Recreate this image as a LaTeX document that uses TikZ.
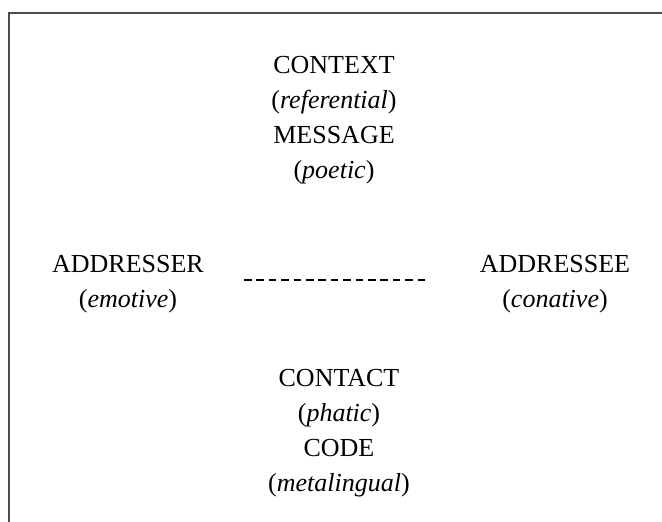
\documentclass[tikz,border=0pt]{standalone}
\usepackage{fontspec}
\setmainfont{Liberation Serif}
\usepackage{tikz}
\usetikzlibrary{calc}

\tikzset{
  word/.style={anchor=base,inner sep=0pt,font=\fontsize{26}{35}\selectfont},
  frameline/.style={line width=2pt,color=black!70},
  dashline/.style={line width=2pt,dash pattern=on 7.5pt off 4.9pt}
}

\begin{document}
\begin{tikzpicture}[x=1pt,y=-1pt]
              \useasboundingbox (0,0) rectangle (662,522);
              \draw[frameline] (9,530) -- (9,12.5) -- (670,12.5);
              % top
              \node[word](context)at(334,73){CONTEXT};
              \node[word](referential)at(334,108){(\textit{referential})};
              \node[word](message)at(334,143){MESSAGE};
              \node[word](poetic)at(334,178){(\textit{poetic})};
              % sides
              \node[word](addresser)at(128,272){ADDRESSER};
              \node[word](emotive)at(128,307){(\textit{emotive})};
              \node[word](addressee)at(555,272){ADDRESSEE};
              \node[word](conative)at(555,307){(\textit{conative})};
              \coordinate (l) at (244,280);
              \coordinate (r) at (425.1,280);
              \draw[dashline](l)--(r);
              % bottom
              \node[word](contact)at(339,386){CONTACT};
              \node[word](phatic)at(339,421){(\textit{phatic})};
              \node[word](code)at(339,456){CODE};
              \node[word](metalingual)at(339,491){(\textit{metalingual})};
            \end{tikzpicture}
\end{document}
